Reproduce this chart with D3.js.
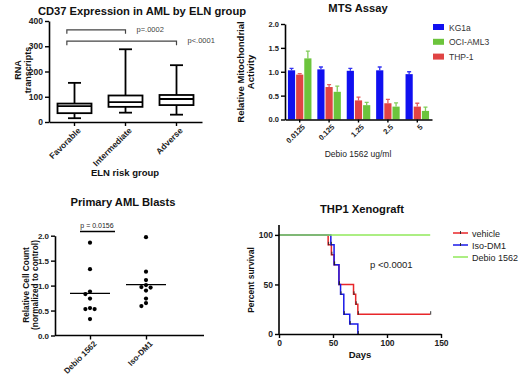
<!DOCTYPE html>
<html>
<head>
<meta charset="utf-8">
<script src="https://cdn.jsdelivr.net/npm/d3@7/dist/d3.min.js"></script>
<style>
body { margin: 0; background: #fff; }
svg text { font-family: "Liberation Sans", Arial, sans-serif; }
</style>
</head>
<body>
<svg id="chart" width="520" height="375"></svg>
<script>
//////////////////////////////////////////////////////////////////////////////
// Data

// Panel A: CD37 expression box plots
var elnGroups = ["Favorable", "Intermediate", "Adverse"];
var elnMin = [15, 37, 29];
var elnQ1  = [35, 60, 67];
var elnMed = [63, 79, 91];
var elnQ3  = [73, 105, 107];
var elnMax = [155, 288, 225];
var elnTicks = [0, 100, 200, 300, 400];
var elnPvals = ["p=.0002", "p<.0001"];

// Panel B: MTS assay
var doses = ["0.0125", "0.125", "1.25", "2.5", "5"];
var barOrder = ["KG1a", "THP-1", "OCI-AML3"];
var legendOrder = ["KG1a", "OCI-AML3", "THP-1"];
var kg1aMean = [1.03, 1.05, 1.02, 1.03, 0.95];
var kg1aErr  = [0.04, 0.05, 0.05, 0.07, 0.05];
var thp1Mean = [0.94, 0.68, 0.40, 0.34, 0.27];
var thp1Err  = [0.02, 0.05, 0.07, 0.08, 0.07];
var ociMean  = [1.28, 0.58, 0.30, 0.27, 0.18];
var ociErr   = [0.15, 0.12, 0.06, 0.08, 0.08];
var mtsTicks = [0, 0.5, 1.0, 1.5, 2.0];

// Panel C: primary AML blasts
var blastGroups = ["Debio 1562", "Iso-DM1"];
var debioCounts = [1.86, 1.33, 0.88, 0.83, 0.74, 0.53, 0.53, 0.55, 0.33];
var isoCounts   = [1.97, 1.28, 1.11, 1.01, 0.97, 0.96, 0.90, 0.74, 0.65, 0.59];
var blastTicks = [0, 0.5, 1.0, 1.5, 2.0];

// Panel D: xenograft survival
var vehicleDays = [0, 45.5, 48.5, 51, 55.5, 69, 71, 73, 140];
var vehicleSurv = [100, 90, 80, 70, 50, 40, 30, 20, 20];
var isoDays = [0, 48, 51, 55.5, 57, 60, 65.5, 73];
var isoSurv = [100, 90, 70, 50, 40, 20, 10, 0];
var debioDays = [0, 140];
var debioSurv = [100, 100];
var survSeries = ["vehicle", "Iso-DM1", "Debio 1562"];
var dayTicks = [0, 50, 100, 150];
var survTicks = [0, 50, 100];

//////////////////////////////////////////////////////////////////////////////
// Helpers

var svg = d3.select("#chart");

function styleAxis(g, fontSize) {
    g.select(".domain").attr("stroke", "#000").attr("stroke-width", 1.6);
    g.selectAll(".tick line").attr("stroke", "#000").attr("stroke-width", 1.4);
    g.selectAll(".tick text")
        .attr("font-size", fontSize)
        .attr("font-weight", "bold")
        .attr("fill", "#222")
        .attr("font-family", "Liberation Sans, Arial, sans-serif");
}

function rotateLabels(g) {
    g.selectAll(".tick text")
        .attr("text-anchor", "end")
        .attr("dx", "-0.2em")
        .attr("dy", "0.5em")
        .attr("transform", "rotate(-45)");
}

function title(x, y, txt) {
    svg.append("text")
        .attr("x", x).attr("y", y)
        .attr("text-anchor", "middle")
        .attr("font-size", 11.2)
        .attr("font-weight", "bold")
        .attr("fill", "#111")
        .text(txt);
}

function vLabel(x, y, lines, size, bold) {
    var t = svg.append("text")
        .attr("transform", "translate(" + x + "," + y + ") rotate(-90)")
        .attr("text-anchor", "middle")
        .attr("font-size", size)
        .attr("font-weight", bold ? "bold" : "normal")
        .attr("fill", "#111");
    lines.forEach(function(l, i) {
        t.append("tspan").attr("x", 0).attr("dy", i == 0 ? 0 : "1.1em").text(l);
    });
}

//////////////////////////////////////////////////////////////////////////////
// Panel A

var xA = d3.scaleBand().domain(elnGroups).range([49, 202]);
var yA = d3.scaleLinear().domain([0, 400]).range([122, 21]);

title(142, 14.5, "CD37 Expression in AML by ELN group");
vLabel(21, 70, ["RNA", "transcripts"], 9, true);

svg.append("g").attr("transform", "translate(49,0)")
    .call(d3.axisLeft(yA).tickValues(elnTicks).tickSize(4).tickSizeOuter(0).tickPadding(2))
    .call(styleAxis, 8.5);

svg.append("g").attr("transform", "translate(0,122)")
    .call(d3.axisBottom(xA).tickSize(4).tickSizeOuter(0))
    .call(styleAxis, 8.5)
    .call(rotateLabels);

svg.append("text").attr("x", 125).attr("y", 176)
    .attr("text-anchor", "middle").attr("font-size", 9.5).attr("font-weight", "bold")
    .attr("fill", "#111").text("ELN risk group");

var boxW = 34, capW = 13;
var boxes = svg.append("g").selectAll("g")
    .data(elnGroups)
    .enter()
    .append("g")
    .attr("transform", function(d) { return "translate(" + (xA(d) + xA.bandwidth() / 2) + ",0)"; })
    .attr("stroke", "#000").attr("stroke-width", 1.8).attr("fill", "none");

boxes.append("line")
    .attr("y1", function(d, i) { return yA(elnMax[i]); })
    .attr("y2", function(d, i) { return yA(elnQ3[i]); });
boxes.append("line")
    .attr("y1", function(d, i) { return yA(elnQ1[i]); })
    .attr("y2", function(d, i) { return yA(elnMin[i]); });
boxes.append("line").attr("x1", -capW / 2).attr("x2", capW / 2)
    .attr("y1", function(d, i) { return yA(elnMax[i]); })
    .attr("y2", function(d, i) { return yA(elnMax[i]); });
boxes.append("line").attr("x1", -capW / 2).attr("x2", capW / 2)
    .attr("y1", function(d, i) { return yA(elnMin[i]); })
    .attr("y2", function(d, i) { return yA(elnMin[i]); });
boxes.append("rect")
    .attr("x", -boxW / 2).attr("width", boxW)
    .attr("y", function(d, i) { return yA(elnQ3[i]); })
    .attr("height", function(d, i) { return yA(elnQ1[i]) - yA(elnQ3[i]); })
    .attr("fill", "#fff");
boxes.append("line").attr("x1", -boxW / 2).attr("x2", boxW / 2)
    .attr("y1", function(d, i) { return yA(elnMed[i]); })
    .attr("y2", function(d, i) { return yA(elnMed[i]); });

// significance brackets
var bracketLeft = xA("Favorable") + xA.bandwidth() * 0.35;
var bracketTargets = ["Intermediate", "Adverse"];
var bracketVals = [365, 320];
var pvalDx = [11, 11];
bracketTargets.forEach(function(grp, i) {
    var right = xA(grp) + xA.bandwidth() / 2;
    var yy = yA(bracketVals[i]);
    svg.append("path")
        .attr("d", "M" + bracketLeft + "," + (yy + 4) + "V" + yy + "H" + right + "V" + (yy + 4))
        .attr("fill", "none").attr("stroke", "#444").attr("stroke-width", 1.2);
    svg.append("text")
        .attr("x", right + pvalDx[i]).attr("y", yy + 2)
        .attr("font-size", 7.5).attr("fill", "#444")
        .text(elnPvals[i]);
});

//////////////////////////////////////////////////////////////////////////////
// Panel B

var xB = d3.scaleBand().domain(doses).range([285, 432]).paddingInner(0.2).paddingOuter(0.1);
var xBin = d3.scaleBand().domain(barOrder).range([0, xB.bandwidth()]).paddingInner(0.12);
var yB = d3.scaleLinear().domain([0, 2]).range([119.5, 24]);
var colorB = d3.scaleOrdinal().domain(barOrder).range(["#1010f0", "#e04444", "#6cc43c"]);
var meansB = { "KG1a": kg1aMean, "THP-1": thp1Mean, "OCI-AML3": ociMean };
var errsB  = { "KG1a": kg1aErr,  "THP-1": thp1Err,  "OCI-AML3": ociErr };

title(358, 12, "MTS Assay");
vLabel(244, 72, ["Relative  Mitochondrial", "Activity"], 9.5, true);

var barData = [];
doses.forEach(function(d, i) {
    barOrder.forEach(function(c) {
        barData.push({ dose: d, line: c, v: meansB[c][i], e: errsB[c][i] });
    });
});

var barG = svg.append("g");
barG.selectAll("line.err")
    .data(barData).enter().append("path")
    .attr("d", function(d) {
        var cx = xB(d.dose) + xBin(d.line) + xBin.bandwidth() / 2;
        var top = yB(d.v + d.e);
        return "M" + cx + "," + yB(d.v) + "V" + top + "M" + (cx - 2) + "," + top + "H" + (cx + 2);
    })
    .attr("stroke", function(d) { return colorB(d.line); })
    .attr("stroke-width", 1.3).attr("fill", "none").attr("opacity", 0.85);
barG.selectAll("rect")
    .data(barData).enter().append("rect")
    .attr("x", function(d) { return xB(d.dose) + xBin(d.line); })
    .attr("width", xBin.bandwidth())
    .attr("y", function(d) { return yB(d.v); })
    .attr("height", function(d) { return yB(0) - yB(d.v); })
    .attr("fill", function(d) { return colorB(d.line); });

svg.append("g").attr("transform", "translate(285,0)")
    .call(d3.axisLeft(yB).tickValues(mtsTicks).tickFormat(d3.format(".1f")).tickSize(4).tickSizeOuter(0).tickPadding(2))
    .call(styleAxis, 7.5);

svg.append("g").attr("transform", "translate(0,119.5)")
    .call(d3.axisBottom(xB).tickSize(3).tickSizeOuter(0))
    .call(styleAxis, 7.5)
    .call(rotateLabels);

svg.append("text").attr("x", 358).attr("y", 157)
    .attr("text-anchor", "middle").attr("font-size", 8.5).attr("fill", "#222")
    .text("Debio 1562 ug/ml");

var legB = svg.append("g").selectAll("g")
    .data(legendOrder).enter().append("g")
    .attr("transform", function(d, i) { return "translate(433," + (24 + i * 14.8) + ")"; });
legB.append("rect").attr("width", 11).attr("height", 6)
    .attr("fill", function(d) { return colorB(d); });
legB.append("text").attr("x", 16).attr("y", 6.5)
    .attr("font-size", 8.5).attr("fill", "#333").text(function(d) { return d; });

//////////////////////////////////////////////////////////////////////////////
// Panel C

var xC = d3.scalePoint().domain(blastGroups).range([90, 146]);
var yC = d3.scaleLinear().domain([0, 2]).range([335.5, 235.7]);

title(123, 206, "Primary AML Blasts");
vLabel(29, 285, ["Relative Cell Count", "(normalized to control)"], 8.3, true);

svg.append("g").attr("transform", "translate(55,0)")
    .call(d3.axisLeft(yC).tickValues(blastTicks).tickFormat(d3.format(".1f")).tickSize(4).tickSizeOuter(0).tickPadding(2))
    .call(styleAxis, 8);

svg.append("g").attr("transform", "translate(0,335.5)")
    .call(d3.axisBottom(xC).tickSize(4).tickSizeOuter(0))
    .call(styleAxis, 8)
    .call(function(g) { g.select(".domain").attr("d", "M55,0H204"); })
    .call(rotateLabels);

// simple beeswarm offsets so overlapping dots sit side by side
function swarm(vals) {
    var placed = [];
    var order = vals.map(function(v, i) { return i; })
        .sort(function(a, b) { return vals[b] - vals[a]; });
    var out = new Array(vals.length);
    order.forEach(function(i) {
        var py = yC(vals[i]);
        var cands = [0, -4.6, 4.6, -9.2, 9.2];
        for (var k = 0; k < cands.length; k++) {
            var ok = placed.every(function(p) {
                var dx = p[0] - cands[k], dy = p[1] - py;
                return dx * dx + dy * dy >= 4.4 * 4.4;
            });
            if (ok) { out[i] = cands[k]; placed.push([cands[k], py]); return; }
        }
        out[i] = 0;
    });
    return out;
}

var blastVals = { "Debio 1562": debioCounts, "Iso-DM1": isoCounts };
blastGroups.forEach(function(grp) {
    var vals = blastVals[grp];
    var offs = swarm(vals);
    svg.append("g").selectAll("circle")
        .data(vals).enter().append("circle")
        .attr("cx", function(d, i) { return xC(grp) + offs[i]; })
        .attr("cy", function(d) { return yC(d); })
        .attr("r", 2.1).attr("fill", "#000");
    var m = d3.mean(vals);
    svg.append("line")
        .attr("x1", xC(grp) - 20).attr("x2", xC(grp) + 20)
        .attr("y1", yC(m)).attr("y2", yC(m))
        .attr("stroke", "#000").attr("stroke-width", 1.3);
});

svg.append("line")
    .attr("x1", 80).attr("x2", 115).attr("y1", 231.5).attr("y2", 231.5)
    .attr("stroke", "#000").attr("stroke-width", 1.3);
svg.append("text").attr("x", 97).attr("y", 228)
    .attr("text-anchor", "middle").attr("font-size", 7).attr("fill", "#222")
    .text("p = 0.0156");

//////////////////////////////////////////////////////////////////////////////
// Panel D

var xD = d3.scaleLinear().domain([0, 150]).range([279, 441]);
var yD = d3.scaleLinear().domain([0, 110]).range([334, 225]);
var colorD = d3.scaleOrdinal().domain(survSeries).range(["#e8262a", "#1a1ae8", "#90e85a"]);

title(362, 213, "THP1 Xenograft");
vLabel(254, 280, ["Percent survival"], 8.5, true);

var step = d3.line()
    .x(function(d) { return xD(d[0]); })
    .y(function(d) { return yD(d[1]); })
    .curve(d3.curveStepAfter);

var survData = [
    { name: "vehicle", pts: d3.zip(vehicleDays, vehicleSurv) },
    { name: "Iso-DM1", pts: d3.zip(isoDays, isoSurv) },
    { name: "Debio 1562", pts: d3.zip(debioDays, debioSurv) }
];

svg.append("g").selectAll("path")
    .data(survData).enter().append("path")
    .attr("d", function(d) { return step(d.pts); })
    .attr("fill", "none")
    .attr("stroke", function(d) { return colorD(d.name); })
    .attr("stroke-width", 1.5);

// event / censor marks
survData.slice(0, 2).forEach(function(s) {
    svg.append("g").selectAll("line")
        .data(s.pts.slice(1)).enter().append("line")
        .attr("x1", function(d) { return xD(d[0]) + 0.5; })
        .attr("x2", function(d) { return xD(d[0]) + 0.5; })
        .attr("y1", function(d) { return yD(d[1]) - 3; })
        .attr("y2", function(d) { return yD(d[1]) + 0.5; })
        .attr("stroke", "#222").attr("stroke-width", 0.9);
});

svg.append("g").attr("transform", "translate(279,0)")
    .call(d3.axisLeft(yD).tickValues(survTicks).tickSize(4).tickSizeOuter(0).tickPadding(2))
    .call(styleAxis, 8.5)
    .call(function(g) { g.select(".domain").attr("d", "M0," + yD(110) + "V" + yD(0)); });

svg.append("g").attr("transform", "translate(0,334)")
    .call(d3.axisBottom(xD).tickValues(dayTicks).tickSize(4).tickSizeOuter(0).tickPadding(2))
    .call(styleAxis, 8.5);

svg.append("text").attr("x", 360).attr("y", 358)
    .attr("text-anchor", "middle").attr("font-size", 9.5).attr("font-weight", "bold")
    .attr("fill", "#111").text("Days");

svg.append("text").attr("x", 370).attr("y", 268)
    .attr("font-size", 9.5).attr("fill", "#222").text("p <0.0001");

var legD = svg.append("g").selectAll("g")
    .data(survSeries).enter().append("g")
    .attr("transform", function(d, i) { return "translate(453," + (233 + i * 12) + ")"; });
legD.append("line").attr("x1", 0).attr("x2", 15)
    .attr("stroke", function(d) { return colorD(d); }).attr("stroke-width", 1.5);
legD.filter(function(d, i) { return i < 2; }).append("line")
    .attr("x1", 7.5).attr("x2", 7.5).attr("y1", -2).attr("y2", 1)
    .attr("stroke", "#222").attr("stroke-width", 0.9);
legD.append("text").attr("x", 19).attr("y", 3.5)
    .attr("font-size", 9).attr("fill", "#222").text(function(d) { return d; });
</script>
</body>
</html>
